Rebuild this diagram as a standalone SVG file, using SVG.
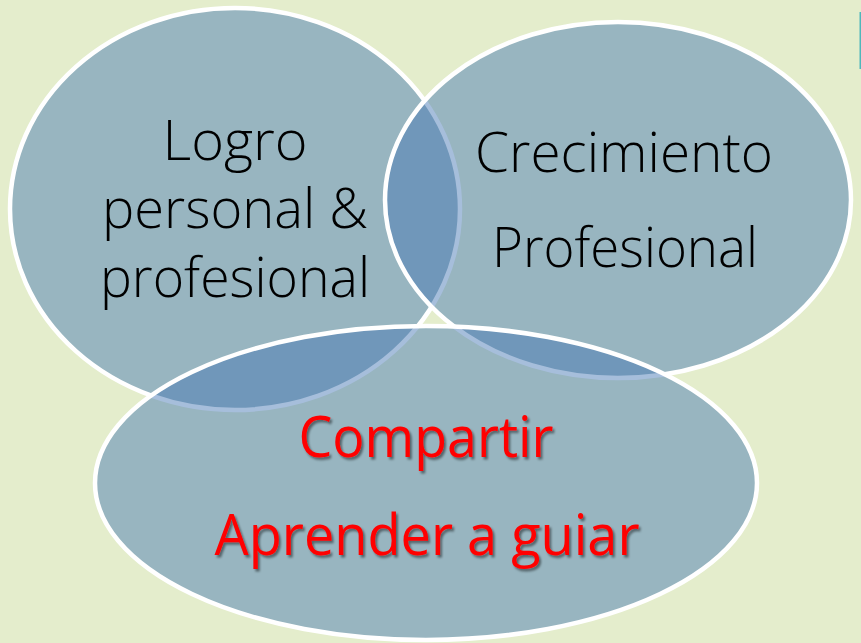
<svg xmlns="http://www.w3.org/2000/svg" width="861" height="643" viewBox="0 0 861 643">
<defs>
<style>
.c{fill:#4677b3;fill-opacity:0.48;stroke:#ffffff;stroke-width:4.5}
.t{font-family:"Open Sans","Noto Sans","Liberation Sans",sans-serif;font-size:56px;text-anchor:middle}
.k{fill:#000000;font-weight:300}
.r{fill:#ff0000;font-weight:400;filter:url(#sh)}
</style>
<filter id="sh" x="-10%" y="-20%" width="120%" height="150%">
<feDropShadow dx="2" dy="2.5" stdDeviation="1.2" flood-color="#000000" flood-opacity="0.45"/>
</filter>
</defs>
<rect x="0" y="0" width="861" height="643" fill="#e4edcc"/>
<rect x="859.5" y="12" width="1.5" height="57" fill="#4fb8bb"/>
<g id="node-logro">
<ellipse class="c" cx="235" cy="209" rx="225" ry="201"/>
</g>
<g id="node-crecimiento">
<ellipse class="c" cx="618" cy="200" rx="233" ry="178"/>
</g>
<g id="node-compartir">
<ellipse class="c" cx="426" cy="483" rx="331" ry="157"/>
</g>
<g id="connectors"></g>
<g id="labels">
<text class="t k" x="235" y="160" textLength="145" lengthAdjust="spacingAndGlyphs">Logro</text>
<text class="t k" x="235" y="228" textLength="266" lengthAdjust="spacingAndGlyphs">personal &amp;</text>
<text class="t k" x="235" y="297" textLength="270" lengthAdjust="spacingAndGlyphs">profesional</text>
<text class="t k" x="624" y="172" textLength="298" lengthAdjust="spacingAndGlyphs">Crecimiento</text>
<text class="t k" x="625" y="267" textLength="266" lengthAdjust="spacingAndGlyphs">Profesional</text>
<text class="t r" x="426" y="457" textLength="255" lengthAdjust="spacingAndGlyphs">Compartir</text>
<text class="t r" x="427" y="555" textLength="425" lengthAdjust="spacingAndGlyphs">Aprender a guiar</text>
</g>
</svg>
